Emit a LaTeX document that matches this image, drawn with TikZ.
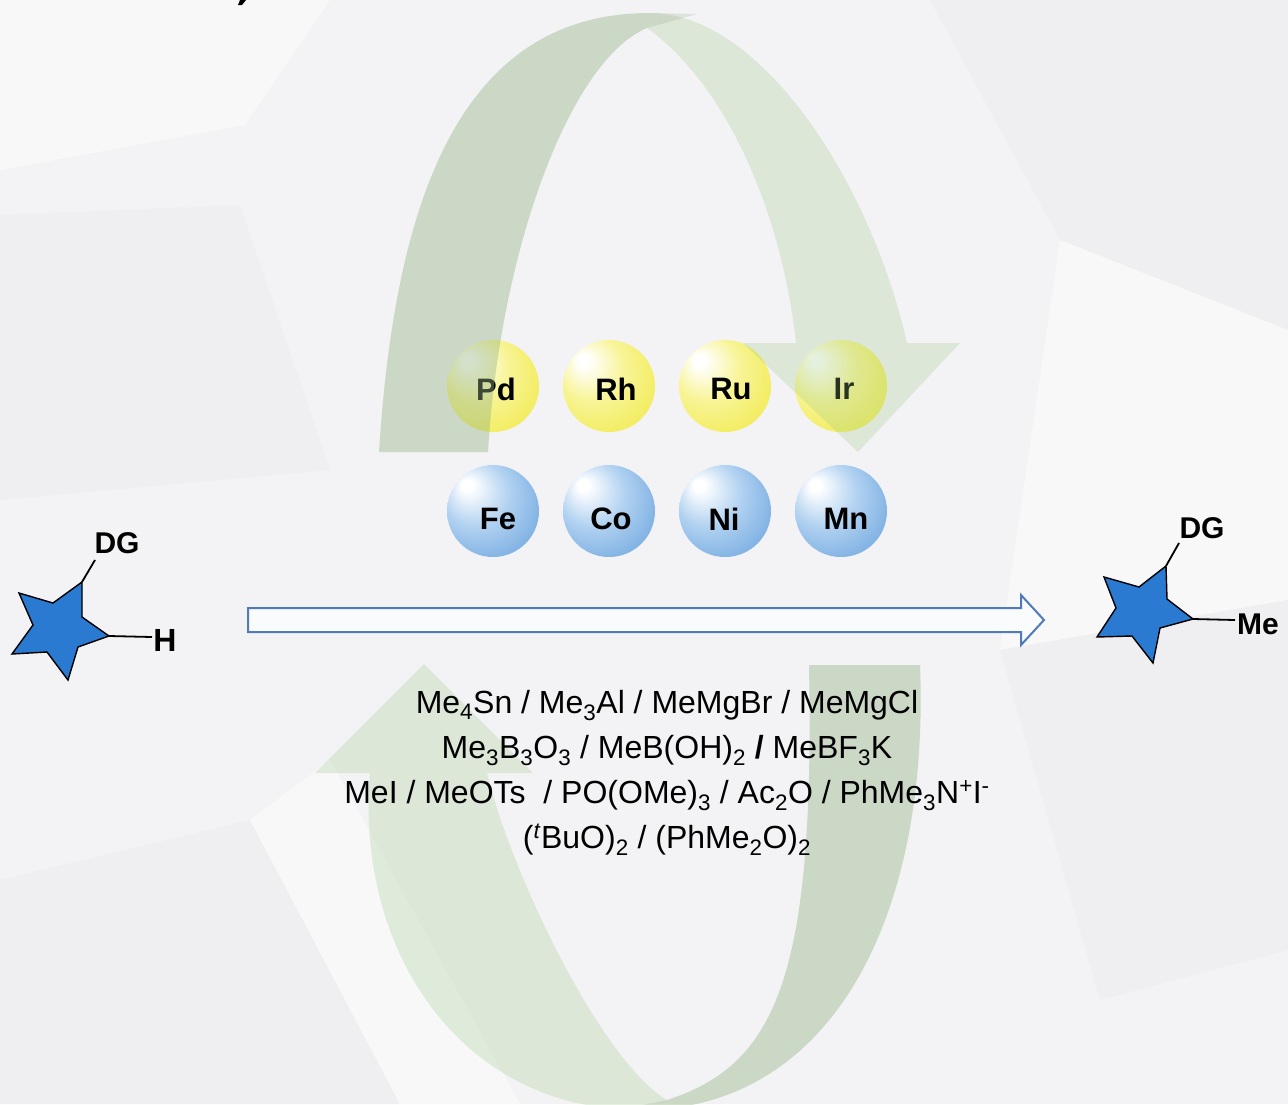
\documentclass[tikz,border=0pt]{standalone}
\usepackage{fontspec}
\setmainfont{Liberation Sans}

\definecolor{bgbase}{RGB}{243,243,245}
\definecolor{bglight}{RGB}{248,248,249}
\definecolor{bgdark}{RGB}{239,239,241}
\definecolor{glight}{RGB}{155,200,130}
\definecolor{gdark}{RGB}{140,160,130}
\definecolor{ymid}{RGB}{248,244,150}
\definecolor{yring}{RGB}{242,236,90}
\definecolor{yedge}{RGB}{236,228,66}
\definecolor{bmid}{RGB}{178,210,241}
\definecolor{bring}{RGB}{116,170,224}
\definecolor{bedge}{RGB}{80,144,211}
\definecolor{starblue}{RGB}{42,122,210}
\definecolor{rxnblue}{RGB}{80,122,184}
\definecolor{rxnfill}{RGB}{250,251,253}

\pgfdeclareradialshading{yellowball}{\pgfpoint{-15bp}{15bp}}{%
  color(0bp)=(white); color(3bp)=(white); color(18bp)=(ymid);
  color(34bp)=(yring); color(46bp)=(yedge); color(50bp)=(yedge)}
\pgfdeclareradialshading{blueball}{\pgfpoint{-15bp}{15bp}}{%
  color(0bp)=(white); color(3bp)=(white); color(18bp)=(bmid);
  color(36bp)=(bring); color(50bp)=(bedge)}

\begin{document}
\begin{tikzpicture}[x=1pt,y=-1pt,
  ball/.style={circle,minimum size=92pt,inner sep=0pt},
  yball/.style={ball,shading=yellowball},
  bball/.style={ball,shading=blueball},
  elem/.style={font=\fontsize{31}{31}\selectfont\bfseries,inner sep=0pt},
  grp/.style={font=\fontsize{30}{30}\selectfont\bfseries,inner sep=0pt},
  reagent/.style={font=\fontsize{32}{38}\selectfont,inner sep=0pt,anchor=base},
  bond/.style={line width=1.8pt,black},
  ring/.style={fill=starblue,draw=black,line width=1.4pt,line join=miter},
  bandlight/.style={fill=glight,fill opacity=0.26},
  banddark/.style={fill=gdark,fill opacity=0.2},
  rxn/.style={draw=rxnblue,fill=rxnfill,line width=2pt,line join=miter},
]
\useasboundingbox (0,0) rectangle (1288,1104);
\clip (0,0) rectangle (1288,1104);

% faceted background
\fill[bgbase] (0,0) rectangle (1288,1104);
\fill[bglight] (0,0) -- (330,0) -- (245,125) -- (0,170) -- cycle;
\fill[bgdark] (0,215) -- (240,205) -- (330,470) -- (0,500) -- cycle;
\fill[bgdark] (930,0) -- (1288,0) -- (1288,330) -- (1060,240) -- cycle;
\fill[bglight] (1060,240) -- (1288,330) -- (1288,600) -- (1000,650) -- cycle;
\fill[bgdark] (1000,650) -- (1288,600) -- (1288,950) -- (1100,1000) -- cycle;
\fill[bgdark] (0,880) -- (250,820) -- (400,1104) -- (0,1104) -- cycle;
\fill[bglight] (250,820) -- (330,760) -- (520,1104) -- (400,1104) -- cycle;

% fragment of a heading above the frame
\fill[black] (240,0) -- (246,0) -- (242,5) -- (238,5) -- cycle;

% precious-metal catalysts (under the cycle arrows)
\node[yball] (pdball) at (493,386) {};
\node[yball] (rhball) at (609,386) {};
\node[yball] (ruball) at (725,386) {};
\node[yball] (irball) at (841,386) {};
\node[elem] (pd) at (496,389) {Pd};
\node[elem] (rh) at (616,389) {Rh};
\node[elem] (ru) at (731,389) {Ru};
\node[elem] (ir) at (844,389) {Ir};

% upper cycle arrow
\fill[bandlight] (379,452) .. controls (395,200) and (460,13) .. (650,13)
  .. controls (760,13) and (870,180) .. (907,343)
  -- (960,343) -- (858,452) -- (743,343) -- (796,343)
  .. controls (780,200) and (720,80) .. (647,28)
  .. controls (570,60) and (500,250) .. (488,452) -- cycle;
\fill[banddark] (379,452) .. controls (395,200) and (460,13) .. (650,13)
  -- (697,14) -- (647,28)
  .. controls (570,60) and (500,250) .. (488,452) -- cycle;

% lower cycle arrow
\fill[bandlight] (920,665) .. controls (930,920) and (830,1110) .. (640,1110)
  .. controls (460,1110) and (355,950) .. (370,773)
  -- (315,773) -- (424,664) -- (533,773) -- (487,773)
  .. controls (510,870) and (600,1060) .. (667,1100)
  .. controls (775,1065) and (815,980) .. (809,665) -- cycle;
\fill[banddark] (920,665) .. controls (930,920) and (830,1110) .. (640,1110)
  -- (618,1110) -- (667,1100)
  .. controls (775,1065) and (815,980) .. (809,665) -- cycle;

% reaction arrow
\coordinate (rxnstart) at (248,620);
\coordinate (rxnend) at (1044,620);
\draw[rxn] ([yshift=12pt]rxnstart) -- (1021,608) -- (1021,595) -- (rxnend)
  -- (1021,645) -- (1021,632) -- ([yshift=-12pt]rxnstart) -- cycle;

% methyl sources
\node[reagent] (r1) at (667,713) {Me\textsubscript{4}Sn / Me\textsubscript{3}Al / MeMgBr / MeMgCl};
\node[reagent] (r2) at (667,758) {Me\textsubscript{3}B\textsubscript{3}O\textsubscript{3} / MeB(OH)\textsubscript{2} \textbf{/} MeBF\textsubscript{3}K};
\node[reagent] (r3) at (667,803) {MeI / MeOTs~ / PO(OMe)\textsubscript{3} / Ac\textsubscript{2}O / PhMe\textsubscript{3}N\textsuperscript{+}I\textsuperscript{-}};
\node[reagent] (r4) at (667,848) {(\textsuperscript{\textit{t}}BuO)\textsubscript{2} / (PhMe\textsubscript{2}O)\textsubscript{2}};

% first-row metal catalysts
\node[bball] (feball) at (493,511) {};
\node[bball] (coball) at (609,511) {};
\node[bball] (niball) at (725,511) {};
\node[bball] (mnball) at (841,511) {};
\node[elem] (fe) at (498,519) {Fe};
\node[elem] (co) at (611,519) {Co};
\node[elem] (ni) at (724,519) {Ni};
\node[elem] (mn) at (846,519) {Mn};

% substrate
\coordinate (sdg) at (82,582);
\coordinate (sh) at (109,636);
\draw[ring] (sdg) -- (82,617) -- (sh) -- (78,647) -- (68,680) -- (47,652)
  -- (12,654) -- (33,625) -- (19,593) -- (53,603) -- cycle;
\node[grp] (dg1) at (117,543) {DG};
\node[grp,font=\fontsize{32}{32}\selectfont\bfseries] (h1) at (165,640) {H};
\coordinate (dg1bond) at (95,560);
\coordinate (h1bond) at (152,637);
\draw[bond] (sdg) -- (dg1bond);
\draw[bond] (sh) -- (h1bond);

% product
\coordinate (pdg) at (1166,566);
\coordinate (pme) at (1193,619);
\draw[ring] (pdg) -- (1167,599) -- (pme) -- (1160,628) -- (1153,663) -- (1132,636)
  -- (1097,637) -- (1116,608) -- (1104,577) -- (1139,587) -- cycle;
\node[grp] (dg2) at (1202,528) {DG};
\node[grp] (me2) at (1258,624) {Me};
\coordinate (dg2bond) at (1179,543);
\coordinate (me2bond) at (1235,620);
\draw[bond] (pdg) -- (dg2bond);
\draw[bond] (pme) -- (me2bond);
\end{tikzpicture}
\end{document}
